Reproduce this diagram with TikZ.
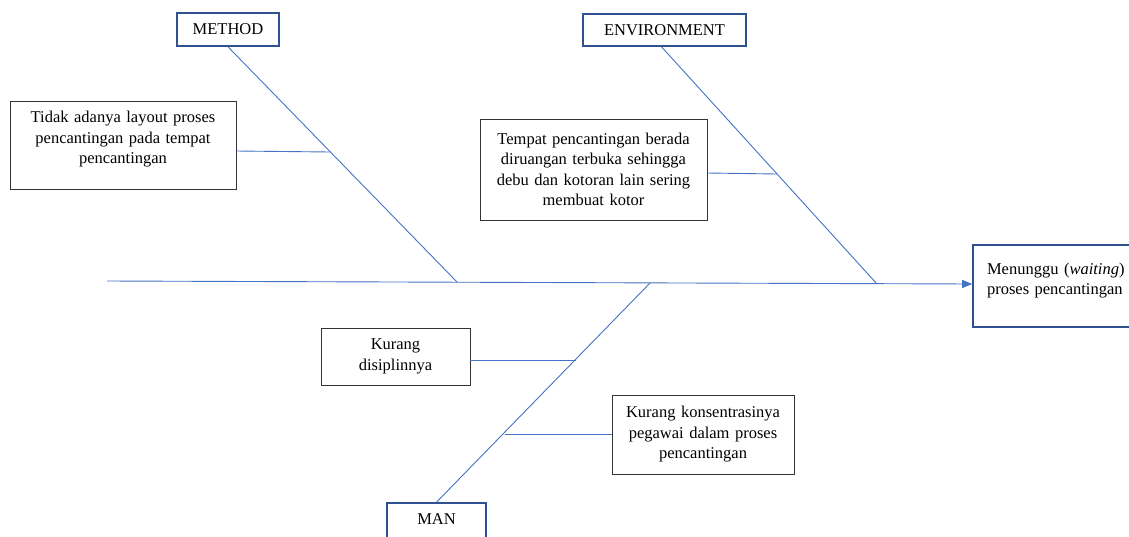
\documentclass[tikz,border=0pt]{standalone}
\usepackage{fontspec}
\setmainfont{Liberation Serif}
\usetikzlibrary{arrows.meta,calc}
\definecolor{bone}{HTML}{4472C4}
\definecolor{catblue}{HTML}{2F528F}
\begin{document}
\begin{tikzpicture}[x=1pt,y=-1pt,
  font=\fontsize{16.5}{20.5}\selectfont,
  catbox/.style={draw=catblue, line width=1.6pt, inner sep=0pt, align=center},
  causebox/.style={draw=black!80, line width=0.8pt, inner xsep=6pt, inner ysep=0pt, align=center},
  boneline/.style={draw=bone, line width=0.9pt}]
\useasboundingbox (0,0) rectangle (1129,536);

% category boxes
\node[catbox, minimum width=102pt, minimum height=33pt] (method) at (228,29.5) {METHOD};
\node[catbox, minimum width=163pt, minimum height=32pt] (env) at (664.5,30) {ENVIRONMENT};
\node[catbox, minimum width=99pt, minimum height=46pt] (man) at (436.5,526) {MAN\\[-7pt]\mbox{}};

% effect box
\node[catbox, align=left, inner xsep=14pt, text width=150pt, minimum height=82pt] (effect) at (1062,286)
  {Menunggu (\textit{waiting})\\proses pencantingan\\[-6pt]\mbox{}};

% cause boxes
\node[causebox, text width=214pt, minimum height=88pt] (tidak) at (123,145)
  {Tidak adanya layout proses\\pencantingan pada tempat\\pencantingan\\[-6pt]\mbox{}};
\node[causebox, text width=215pt, minimum height=101pt] (tempat) at (593.5,169.5)
  {Tempat pencantingan berada\\diruangan terbuka sehingga\\debu dan kotoran lain sering\\membuat kotor};
\node[causebox, text width=137pt, minimum height=57pt] (disiplin) at (395.5,356.5)
  {Kurang\\disiplinnya};
\node[causebox, text width=170pt, minimum height=79pt] (konsen) at (703,434.5)
  {Kurang konsentrasinya\\pegawai dalam proses\\pencantingan};

% coordinates
\coordinate (tail) at (107,281);
\coordinate (mhead) at (457,282);
\coordinate (ehead) at (877,284);
\coordinate (nhead) at (650,283);
\coordinate (tb) at (330,152);
\coordinate (eb) at (777,174);
\coordinate (db) at (576,360);
\coordinate (kb) at (505,434);

% spine
\draw[boneline, -{Triangle[length=10pt,width=8pt]}] (tail) -- (effect.west |- 0,284);
% bones
\draw[boneline] (method.south) -- (mhead);
\draw[boneline] ($(env.south)+(-3,0)$) -- (ehead);
\draw[boneline] (man.north) -- (nhead);
% branches
\draw[boneline] (tidak.east |- 0,151) -- (tb);
\draw[boneline] (tempat.east |- 0,173) -- (eb);
\draw[boneline] (disiplin.east |- db) -- (db);
\draw[boneline] (konsen.west |- kb) -- (kb);
\end{tikzpicture}
\end{document}
